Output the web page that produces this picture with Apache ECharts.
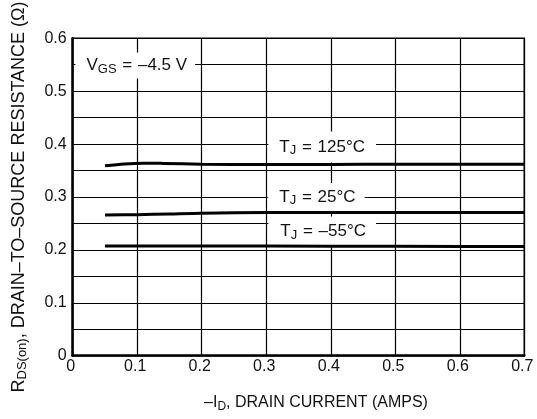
<!DOCTYPE html>
<html><head><meta charset="utf-8">
<script src="https://cdn.jsdelivr.net/npm/echarts@6/dist/echarts.min.js"></script>
<style>html,body{margin:0;padding:0;background:#fff}#c{width:537px;height:419px}</style>
</head><body><div id="c"></div>
<script>
// Drain current (A) and on-resistance (ohm)
const current125 = [0.05, 0.08, 0.11, 0.14, 0.2, 0.3, 0.4, 0.5, 0.6, 0.7];
const r125       = [0.359, 0.3625, 0.364, 0.3635, 0.362, 0.3615, 0.3615, 0.362, 0.362, 0.362];
const current25  = [0.05, 0.1, 0.15, 0.2, 0.3, 0.4, 0.5, 0.6, 0.7];
const r25        = [0.266, 0.2665, 0.268, 0.2695, 0.2705, 0.2705, 0.2705, 0.2705, 0.2705];
const currentM55 = [0.05, 0.2, 0.4, 0.6, 0.7];
const rM55       = [0.2075, 0.2075, 0.207, 0.2065, 0.2065];
const xTickLabels = ['0', '0.1', '0.2', '0.3', '0.4', '0.5', '0.6', '0.7'];
const yTickLabels = ['0', '0.1', '0.2', '0.3', '0.4', '0.5', '0.6'];
const seriesNames = ['TJ = 125°C', 'TJ = 25°C', 'TJ = –55°C'];

const FONT = "'Liberation Sans', Arial, Helvetica, sans-serif";
const TXT = '#111';
const pair = (xs, ys) => xs.map((x, i) => [x, ys[i]]);

function makeRich(size, subSize) {
  return {
    n: { fontSize: size, fontFamily: FONT, color: TXT, lineHeight: 20 },
    e: { fontSize: size, fontFamily: FONT, color: TXT, lineHeight: 20, padding: [0, 1, 0, 1] },
    s: { fontSize: subSize, fontFamily: FONT, color: TXT, lineHeight: 12, verticalAlign: 'bottom' }
  };
}
const annRich = makeRich(17, 13);
function ann(coord, text, padding) {
  return {
    value: coord,
    label: {
      show: true, position: 'right', distance: 0,
      formatter: text, rich: annRich, color: TXT, opacity: 1,
      textBorderWidth: 0, backgroundColor: '#fff', padding: padding
    }
  };
}
const annotations = [
  ann([0.0035, 0.5485], '{n|V}{s|GS}{e| = }{n|–4.5 V}', [3, 8, 3, 11]),
  ann([0.3025, 0.3945], '{n|T}{s|J}{e| = }{n|125°C}', [5.5, 11, 5.5, 11]),
  ann([0.3025, 0.300], '{n|T}{s|J}{e| = }{n|25°C}', [4, 9, 4, 11]),
  ann([0.3025, 0.2348], '{n|T}{s|J}{e| = }{n|–55°C}', [5, 10, 5, 12])
];

const lineSeries = (name, data) => ({
  name, type: 'line', data, smooth: 0.3, showSymbol: false, symbol: 'none',
  lineStyle: { color: '#000', width: 3 }, z: 6, silent: true
});

const chart = echarts.init(document.getElementById('c'), null, { renderer: 'canvas' });
chart.setOption({
  animation: false,
  backgroundColor: '#fff',
  grid: { left: 72.7, right: 12.7, top: 38.3, bottom: 63.3, show: true,
          containLabel: false, outerBoundsMode: 'none',
          borderColor: '#000', borderWidth: 1.5, backgroundColor: 'transparent' },
  xAxis: {
    type: 'value', min: 0, max: 0.7, interval: 0.1,
    name: '{n|–I}{s|D}{n|, DRAIN CURRENT (AMPS)}',
    nameLocation: 'middle', nameGap: 37,
    nameTextStyle: { rich: makeRich(16, 12), padding: [0, 0, 0, 35] },
    axisLine: { show: true, onZero: false, lineStyle: { color: '#000', width: 2.5 } },
    axisTick: { show: false },
    splitLine: { show: true, lineStyle: { color: '#000', width: 1.2 } },
    axisLabel: { fontSize: 16, fontFamily: FONT, color: TXT, margin: 3,
                 padding: [0, 4, 0, 0],
                 formatter: v => xTickLabels[Math.round(v * 10)] }
  },
  yAxis: {
    type: 'value', min: 0, max: 0.6, interval: 0.05,
    name: '{n|R}{s|DS(on)}{n|, DRAIN–TO–SOURCE RESISTANCE (Ω)}',
    nameLocation: 'middle', nameGap: 44, nameRotate: 90,
    nameTextStyle: { rich: makeRich(18, 13) },
    axisLine: { show: true, onZero: false, lineStyle: { color: '#000', width: 2.5 } },
    axisTick: { show: false },
    splitLine: { show: true, lineStyle: { color: '#000', width: 1.2 } },
    axisLabel: { fontSize: 16, fontFamily: FONT, color: TXT, margin: 6,
                 padding: [0, 0, 5, 0],
                 formatter: v => { const k = Math.round(v * 20); return k % 2 === 0 ? yTickLabels[k / 2] : ''; } }
  },
  series: [
    lineSeries(seriesNames[0], pair(current125, r125)),
    lineSeries(seriesNames[1], pair(current25, r25)),
    lineSeries(seriesNames[2], pair(currentM55, rM55)),
    { type: 'scatter', data: annotations, symbolSize: 1, z: 5, silent: true,
      itemStyle: { color: '#fff', opacity: 1 } }
  ]
});
</script></body></html>
